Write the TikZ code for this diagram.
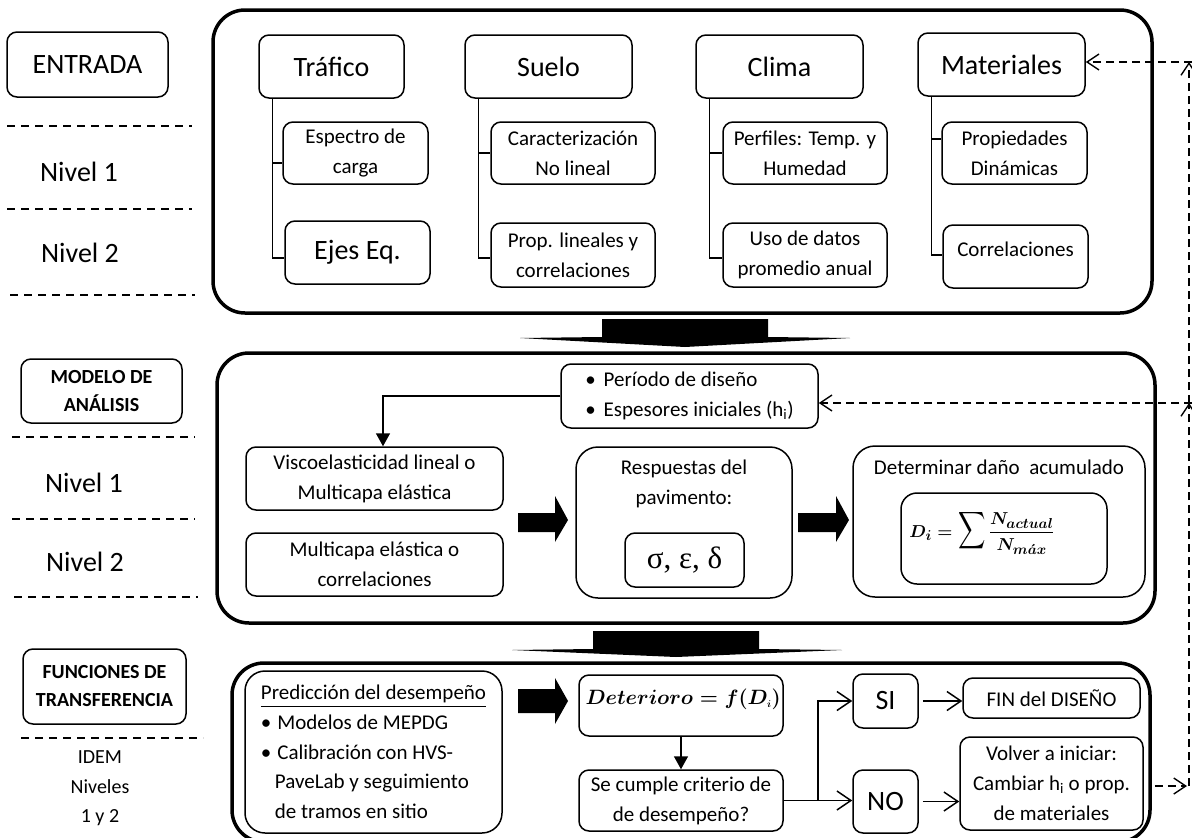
\documentclass[tikz,border=0pt]{standalone}
\usepackage{amsmath}
\usepackage{bm}
\usepackage{fontspec}
\setmainfont{Carlito}
\newfontfamily\grfont{Liberation Serif}
\usetikzlibrary{arrows.meta}
\tikzset{
  sbox/.style={draw, line width=1.5pt, rounded corners=10pt, align=center, inner sep=0pt},
  bigbox/.style={draw, line width=3.5pt, rounded corners=32pt, inner sep=0pt},
  fa/.style={font=\fontsize{21}{30}\selectfont},
  fb/.style={font=\fontsize{21}{30}\selectfont},
  fbig/.style={font=\fontsize{28}{32}\selectfont},
  fbold/.style={font=\fontsize{20}{28}\selectfont\bfseries},
  sepline/.style={line width=1.5pt, dash pattern=on 8pt off 6pt},
  conn/.style={line width=1.5pt},
  filltip/.style={conn, -{Triangle[length=13pt,width=14pt]}},
  opentip/.style={conn, -{Straight Barb[length=14pt,width=19pt]}},
  fback/.style={line width=1.4pt, dash pattern=on 8pt off 5pt, -{Straight Barb[length=12pt,width=16pt]}},
  blockarrow/.style={fill=black, draw=none},
}
\begin{document}
\begin{tikzpicture}[x=1pt,y=-1pt]
\useasboundingbox (0,0) rectangle (1192,838);
\fill[white] (0,0) rectangle (1192,838);

% ---------- left column ----------
\node[sbox, fbig, minimum width=161pt, minimum height=65pt] (entrada) at (87.5,64.5) {ENTRADA};
\draw[sepline] (7,126) -- (192,126);
\node[fbig] (n1a) at (79,172) {Nivel 1};
\draw[sepline] (7,209) -- (192,209);
\node[fbig] (n2a) at (80,253) {Nivel 2};
\draw[sepline] (10,295) -- (195,295);

\node[sbox, fbold, minimum width=161pt, minimum height=64pt] (modelo) at (101.5,391) {MODELO DE\\ANÁLISIS};
\draw[sepline] (12,437) -- (195,437);
\node[fbig] (n1b) at (84,483) {Nivel 1};
\draw[sepline] (12,519) -- (195,519);
\node[fbig] (n2b) at (85,562) {Nivel 2};
\draw[sepline] (14,597) -- (198,597);

\node[sbox, fbold, minimum width=163pt, minimum height=75pt] (funciones) at (104.5,686.5) {FUNCIONES DE\\TRANSFERENCIA};
\draw[sepline] (21,738) -- (203,738);
\node[font=\fontsize{20}{29.5}\selectfont, align=center] (idem) at (100,788.5) {IDEM\\Niveles\\1 y 2};

% ---------- big boxes ----------
\node[bigbox, minimum width=939pt, minimum height=303pt] (bigA) at (682.5,161.5) {};
\node[bigbox, minimum width=938pt, minimum height=270pt] (bigB) at (686,488) {};
\node[bigbox, minimum width=918pt, minimum height=179pt] (bigC) at (691,752.5) {};

% ---------- ENTRADA section ----------
\node[sbox, fbig, minimum width=145pt, minimum height=63pt] (trafico) at (331.5,66.5) {Tráfico};
\node[sbox, fbig, minimum width=167pt, minimum height=63pt] (suelo) at (548.5,66.5) {Suelo};
\node[sbox, fbig, minimum width=167pt, minimum height=63pt] (clima) at (779.5,66.5) {Clima};
\node[sbox, fbig, minimum width=167pt, minimum height=63pt] (materiales) at (1001.5,64.5) {Materiales};

\node[sbox, fa, minimum width=145pt, minimum height=62pt] (espectro) at (355.5,153) {Espectro de\\carga};
\node[sbox, fbig, minimum width=145pt, minimum height=63pt] (ejes) at (357.5,252.5) {Ejes Eq.};
\node[sbox, fa, minimum width=164pt, minimum height=62pt] (caract) at (573,153) {Caracterización\\No lineal};
\node[sbox, fa, minimum width=164pt, minimum height=64pt] (proplin) at (573,255) {Prop. lineales y\\correlaciones};
\node[sbox, fa, minimum width=164pt, minimum height=62pt] (perfiles) at (805,153) {Perfiles: Temp. y\\Humedad};
\node[sbox, fa, minimum width=164pt, minimum height=64pt] (uso) at (805,255) {Uso de datos\\promedio anual};
\node[sbox, fa, minimum width=145pt, minimum height=62pt] (propdin) at (1014.5,153) {Propiedades\\Dinámicas};
\node[sbox, fa, minimum width=145pt, minimum height=63pt, text depth=14pt] (correl) at (1015.5,256.5) {Correlaciones};

\draw[conn] ([xshift=14pt]trafico.south west) |- ([yshift=-10pt]espectro.west);
\draw[conn] ([xshift=14pt]trafico.south west) |- ([yshift=-5.5pt]ejes.west);
\draw[conn] ([xshift=14pt]suelo.south west) |- (caract.west);
\draw[conn] ([xshift=14pt]suelo.south west) |- ([yshift=-3pt]proplin.west);
\draw[conn] ([xshift=14pt]clima.south west) |- (perfiles.west);
\draw[conn] ([xshift=14pt]clima.south west) |- ([yshift=-3pt]uso.west);
\draw[conn] ([xshift=14pt]materiales.south west) |- ([yshift=14pt]propdin.west);
\draw[conn] ([xshift=14pt]materiales.south west) |- ([yshift=1.5pt]correl.west);

% block arrow A
\path[blockarrow] (602,319) -- (768,319) -- (768,337) -- (850,338) -- (685,347) -- (520,338) -- (602,337) -- cycle;

% ---------- MODELO section ----------
\node[sbox, fb, minimum width=257pt, minimum height=64pt, align=left] (periodo) at (689.5,396)
  {\textbullet\hspace{8pt}Período de diseño\\\textbullet\hspace{8pt}Espesores iniciales (h\textsubscript{i})};
\node[sbox, fa, minimum width=257pt, minimum height=63pt] (visco) at (374.5,478.5) {Viscoelasticidad lineal o\\Multicapa elástica};
\node[sbox, fa, minimum width=257pt, minimum height=63pt] (multi) at (374.5,564.5) {Multicapa elástica o\\correlaciones};
\draw[filltip] (periodo.west) -| ([xshift=8.5pt]visco.north);

\path[blockarrow] (518,513) -- (555,513) -- (555,496) -- (568,520) -- (555,542) -- (555,532) -- (518,532) -- cycle;

\node[sbox, rounded corners=22pt, minimum width=216pt, minimum height=151pt] (resp) at (684,522.5) {};
\node[fb, align=center] (resptitle) at ([yshift=-38pt]resp.north) {Respuestas del\\pavimento:};
\node[sbox, minimum width=119pt, minimum height=54pt, font=\grfont\fontsize{31}{34}\selectfont] (sigma) at (684.5,560) {σ, ε, δ};

\path[blockarrow] (798,513) -- (836,513) -- (836,496) -- (849,520) -- (836,542) -- (836,532) -- (798,532) -- cycle;

\node[sbox, rounded corners=22pt, minimum width=292pt, minimum height=151pt] (dano) at (999,521.5) {};
\node[fb] (danotitle) at ([yshift=-22pt]dano.north) {Determinar daño\ \ acumulado};
\node[sbox, rounded corners=16pt, minimum width=206pt, minimum height=91pt] (formbox) at (1004,538.5) {};
\node[font=\fontsize{19}{24}\selectfont\boldmath, inner sep=0pt] (formula) at (982,532)
  {$D_{i} = \mathop{\scalebox{1.1}[1.5]{$\displaystyle\sum$}}
   \dfrac{N_{actual}}{N_{m\acute{a}x}}$};

% block arrow B
\path[blockarrow] (593,631) -- (759,631) -- (759,649) -- (842,650) -- (676,657) -- (512,650) -- (593,649) -- cycle;

% ---------- FUNCIONES section ----------
\node[sbox, rounded corners=20pt, minimum width=257pt, minimum height=162pt, align=left, font=\fontsize{21}{29.7}\selectfont] (pred) at (373.5,752)
  {\underline{Predicción del desempeño}\\
   \textbullet\hspace{6pt}Modelos de MEPDG\\
   \textbullet\hspace{6pt}Calibración con HVS-\\
   \hspace*{14pt}PaveLab y seguimiento\\
   \hspace*{14pt}de tramos en sitio};

\path[blockarrow] (518,689) -- (555,689) -- (555,678) -- (568,701) -- (555,724) -- (555,713) -- (518,713) -- cycle;

\node[sbox, minimum width=204pt, minimum height=61pt] (deter) at (681,705.5) {};
\node[font=\fontsize{20}{22}\selectfont\boldmath, anchor=west] (deterf) at (582,699) {$Deterioro = f(D_{\scriptscriptstyle i})$};
\node[sbox, fb, minimum width=204pt, minimum height=61pt] (secumple) at (681,800.5) {Se cumple criterio de\\de desempeño?};
\draw[filltip] (deter.south) -- (secumple.north);

\node[sbox, fbig, minimum width=65pt, minimum height=54pt] (si) at (885.5,701) {SI};
\node[sbox, fbig, minimum width=65pt, minimum height=63pt] (no) at (885.5,801.5) {NO};
\draw[conn] (secumple.east) -- ++(34,0) coordinate (split);
\draw[opentip] (split) |- (si.west);
\draw[opentip] (split) -- (no.west |- split);

\node[sbox, fa, minimum width=177pt, minimum height=40pt] (fin) at (1051.5,698) {FIN del DISEÑO};
\node[sbox, fa, minimum width=183pt, minimum height=93pt] (volver) at (1051.5,783.5)
  {Volver a iniciar:\\Cambiar h\textsubscript{i} o prop.\\de materiales};
\draw[opentip] ([xshift=4pt]si.east) -- (fin.west |- si.east);
\draw[opentip] ([xshift=4pt]no.east) -- (volver.west |- no.east);

% ---------- feedback loop ----------
\coordinate (fbBot) at (1189,786);
\coordinate (fbMid) at (1189,403);
\coordinate (fbTop) at (1189,62);
\draw[fback] ([xshift=3pt]bigC.east |- fbBot) -- ([xshift=-2pt]fbBot);
\draw[fback] (fbBot) -- (fbMid);
\draw[fback] (fbMid) -- (fbTop);
\draw[fback] ([xshift=3pt]fbMid) -- (periodo.east |- fbMid);
\draw[fback] ([xshift=3pt]fbTop) -- (materiales.east |- fbTop);
\end{tikzpicture}
\end{document}
